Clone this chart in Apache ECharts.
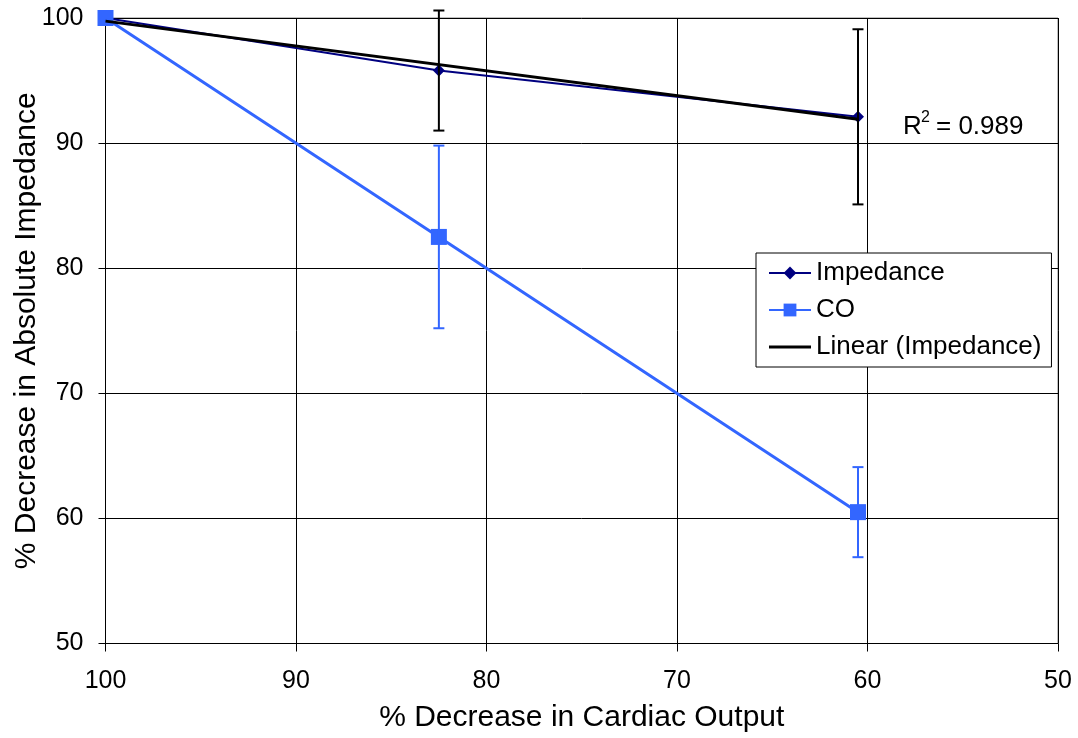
<!DOCTYPE html>
<html><head><meta charset="utf-8">
<script src="https://cdn.jsdelivr.net/npm/echarts@6/dist/echarts.min.js"></script>
<style>html,body{margin:0;padding:0;background:#fff}#c{width:1078px;height:738px}</style>
</head><body><div id="c"></div>
<script>
const xTicks = [100, 90, 80, 70, 60, 50];
const impX = [100, 82.5, 60.5];
const impY = [100, 95.8, 92.1];
const impErr = [0, 4.8, 7.0];
const coX = [100, 82.5, 60.5];
const coY = [100, 82.5, 60.5];
const coErr = [0, 7.3, 3.6];
const trendX = [100, 60.5];
const trendY = [99.75, 91.9];
const r2Text = '0.989';

const FONT = 'Liberation Sans, Arial, sans-serif';
const chart = echarts.init(document.getElementById('c'), null, {renderer: 'canvas'});

function pairs(xs, ys) { return xs.map((x, i) => [x, ys[i]]); }
function errData(xs, ys, es) { return xs.map((x, i) => [x, ys[i] - es[i], ys[i] + es[i]]).filter((d, i) => es[i] > 0); }
function errRender(color) {
  return function (params, api) {
    const x = api.value(0);
    const lo = api.coord([x, api.value(1)]);
    const hi = api.coord([x, api.value(2)]);
    const hw = 5.5;
    const st = {stroke: color, lineWidth: 2};
    return {type: 'group', children: [
      {type: 'line', shape: {x1: lo[0], y1: lo[1], x2: hi[0], y2: hi[1]}, style: st},
      {type: 'line', shape: {x1: lo[0] - hw, y1: lo[1], x2: lo[0] + hw, y2: lo[1]}, style: st},
      {type: 'line', shape: {x1: hi[0] - hw, y1: hi[1], x2: hi[0] + hw, y2: hi[1]}, style: st}
    ]};
  };
}

const option = {
  animation: false,
  backgroundColor: '#fff',
  textStyle: {fontFamily: FONT},
  grid: {left: 105.5, right: 20, top: 18, bottom: 94.5, show: true, borderColor: '#808080', borderWidth: 1,
         containLabel: false, outerBoundsMode: 'none'},
  legend: {
    data: [
      {name: 'Impedance'},
      {name: 'CO'},
      {name: 'Linear (Impedance)', icon: 'path://M0,0H42V3H0Z', itemStyle: {color: '#000'}}
    ],
    orient: 'vertical',
    left: 756, top: 253,
    padding: [7, 10, 7, 12],
    itemGap: 11,
    itemWidth: 42, itemHeight: 16,
    backgroundColor: '#fff',
    borderColor: '#000', borderWidth: 1, borderRadius: 0,
    textStyle: {fontSize: 26, color: '#000', fontFamily: FONT, padding: [0, 0, 0, 0]}
  },
  xAxis: {
    type: 'value', min: 50, max: 100, interval: 10, inverse: true,
    name: '% Decrease in Cardiac Output', nameLocation: 'middle', nameGap: 59, nameMoveOverlap: false,
    nameTextStyle: {fontSize: 30, color: '#000', fontFamily: FONT},
    axisLine: {show: true, onZero: false, lineStyle: {color: '#000', width: 1}},
    axisTick: {show: true, length: 8, lineStyle: {color: '#000'}},
    axisLabel: {fontSize: 25, color: '#000', margin: 25, fontFamily: FONT, formatter: v => xTicks.includes(v) ? String(v) : ''},
    splitLine: {show: true, lineStyle: {color: '#000', width: 1}}
  },
  yAxis: {
    type: 'value', min: 50, max: 100, interval: 10,
    name: '% Decrease in Absolute Impedance', nameLocation: 'middle', nameGap: 64, nameMoveOverlap: false,
    nameTextStyle: {fontSize: 30, color: '#000', fontFamily: FONT},
    axisLine: {show: true, onZero: false, lineStyle: {color: '#000', width: 1}},
    axisTick: {show: true, length: 7, lineStyle: {color: '#000'}},
    axisLabel: {fontSize: 25, color: '#000', margin: 22, fontFamily: FONT},
    splitLine: {show: true, lineStyle: {color: '#000', width: 1}}
  },
  series: [
    {
      name: 'Impedance', type: 'line', data: pairs(impX, impY), z: 3,
      symbol: 'diamond', symbolSize: 12, showAllSymbol: true,
      itemStyle: {color: '#000080'}, lineStyle: {color: '#000080', width: 2}
    },
    {
      name: 'CO', type: 'line', data: pairs(coX, coY), z: 4,
      symbol: 'rect', symbolSize: 16, showAllSymbol: true,
      itemStyle: {color: '#3366FF'}, lineStyle: {color: '#3366FF', width: 3}
    },
    {
      name: 'Linear (Impedance)', type: 'line', data: pairs(trendX, trendY), z: 5,
      symbol: 'none', itemStyle: {color: '#000'}, lineStyle: {color: '#000', width: 3}
    },
    {
      name: 'impErr', type: 'custom', data: errData(impX, impY, impErr), z: 6,
      renderItem: errRender('#000'), encode: {x: 0, y: [1, 2]}, silent: true
    },
    {
      name: 'coErr', type: 'custom', data: errData(coX, coY, coErr), z: 6,
      renderItem: errRender('#3366FF'), encode: {x: 0, y: [1, 2]}, silent: true
    }
  ],
  graphic: [
    {type: 'text', left: 903, top: 114, z: 10, style: {text: 'R', font: '26px ' + FONT, fill: '#000'}},
    {type: 'text', left: 921, top: 110, z: 10, style: {text: '2', font: '16px ' + FONT, fill: '#000'}},
    {type: 'text', left: 936, top: 114, z: 10, style: {text: '= ' + r2Text, font: '26px ' + FONT, fill: '#000'}}
  ]
};
chart.setOption(option);
</script>
</body></html>
